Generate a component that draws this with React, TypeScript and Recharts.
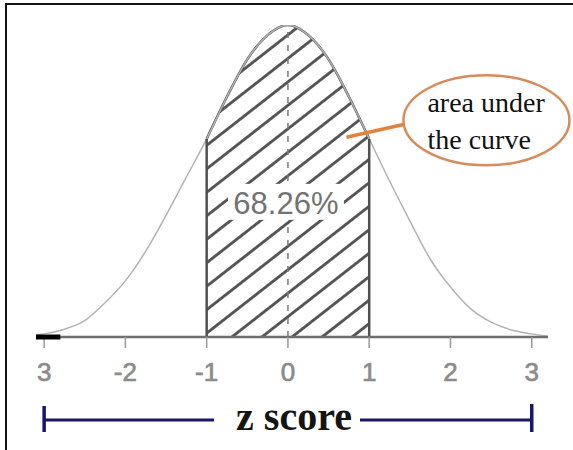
import React from 'react';
import {
  ComposedChart,
  Line,
  Area,
  XAxis,
  YAxis,
  ReferenceLine,
  ReferenceDot,
} from 'recharts';

const zValues = [
  -3.1, -3, -2.75, -2.5, -2.25, -2, -1.75, -1.5, -1.25, -1, -0.75, -0.5, -0.25,
  0, 0.25, 0.5, 0.75, 1, 1.25, 1.5, 1.75, 2, 2.25, 2.5, 2.75, 3, 3.2,
];
const curveDensity = [
  0.003, 0.004, 0.01, 0.021, 0.044, 0.072, 0.11, 0.156, 0.205, 0.254, 0.308, 0.356, 0.387,
  0.4, 0.387, 0.356, 0.308, 0.254, 0.2, 0.149, 0.1, 0.064, 0.036, 0.019, 0.009, 0.004, 0.001,
];

const tickValues = [-3, -2, -1, 0, 1, 2, 3];
const tickLabels = ['3', '-2', '-1', '0', '1', '2', '3'];

const bandFrom = -1;
const bandTo = 1;
const bandLabel = '68.26%';
const calloutLines = ['area under', 'the curve'];
const axisTitle = 'z score';

const X_DOMAIN: [number, number] = [-3.1, 3.2];

const data = zValues.map((z, i) => ({
  z,
  density: curveDensity[i],
  band: z >= bandFrom && z <= bandTo ? curveDensity[i] : null,
}));

const densityAt = (z: number) => curveDensity[zValues.indexOf(z)];

// grey digits under the axis
const ZTick = (props: any) => {
  const { x, y, payload } = props;
  const idx = tickValues.indexOf(payload.value);
  return (
    <text
      x={x}
      y={y + 31}
      textAnchor="middle"
      fill="#8c8c8c"
      stroke="#8c8c8c"
      strokeWidth={0.7}
      fontSize={26}
      fontFamily='"Liberation Sans", Arial, sans-serif'
    >
      {tickLabels[idx]}
    </text>
  );
};

// black stub at the left end of the axis, plus the bracket with the title in its gap
const AxisTitle = (props: any) => {
  const { viewBox } = props;
  const xAt = (z: number) =>
    viewBox.x + ((z - X_DOMAIN[0]) / (X_DOMAIN[1] - X_DOMAIN[0])) * viewBox.width;
  const left = xAt(-3);
  const right = xAt(3);
  const y = viewBox.y + 83;
  const cx = 294;
  const navy = '#16166e';
  return (
    <g>
      <line x1={xAt(-3.1)} y1={viewBox.y} x2={xAt(-2.8)} y2={viewBox.y} stroke="#000" strokeWidth={5} />
      <line x1={left} y1={y} x2={cx - 80} y2={y} stroke={navy} strokeWidth={3} />
      <line x1={cx + 66} y1={y} x2={right} y2={y} stroke={navy} strokeWidth={3} />
      <line x1={left} y1={y - 14} x2={left} y2={y + 12} stroke={navy} strokeWidth={3.5} />
      <line x1={right} y1={y - 16} x2={right} y2={y + 12} stroke={navy} strokeWidth={3.5} />
      <text
        x={cx}
        y={y + 10}
        textAnchor="middle"
        fill="#141414"
        fontSize={40}
        fontWeight="bold"
        fontFamily='"Liberation Serif", "DejaVu Serif", serif'
      >
        {axisTitle}
      </text>
    </g>
  );
};

const BandLabel = (props: any) => {
  const { cx, cy } = props;
  return (
    <g>
      <rect x={cx - 60} y={cy - 19} width={116} height={36} fill="#fff" />
      <text
        x={cx - 2}
        y={cy + 11}
        textAnchor="middle"
        fill="#727272"
        fontSize={31}
        fontFamily='"Liberation Sans", Arial, sans-serif'
      >
        {bandLabel}
      </text>
    </g>
  );
};

const Callout = (props: any) => {
  const { cx, cy } = props;
  const ex = cx + 140;
  const ey = cy - 17;
  return (
    <g>
      <line x1={cx} y1={cy} x2={cx + 58} y2={cy - 13} stroke="#e5823a" strokeWidth={3.5} />
      <ellipse cx={ex} cy={ey} rx={83} ry={45} fill="#fff" stroke="#d98a5a" strokeWidth={2.5} />
      <text
        x={cx + 81}
        y={ey - 8}
        fill="#111"
        fontSize={28}
        fontFamily='"Liberation Serif", "DejaVu Serif", serif'
      >
        <tspan x={cx + 81} dy={0}>{calloutLines[0]}</tspan>
        <tspan x={cx + 81} dy={37}>{calloutLines[1]}</tspan>
      </text>
    </g>
  );
};

export default function App() {
  return (
    <div
      style={{
        position: 'absolute',
        left: 0,
        top: 0,
        width: 573,
        height: 450,
        background: '#fff',
        overflow: 'hidden',
      }}
    >
      <div
        style={{
          position: 'absolute',
          left: 5,
          top: 3,
          right: 0,
          bottom: 0,
          borderTop: '2px solid #111',
          borderLeft: '2.5px solid #111',
        }}
      />
      <div style={{ position: 'absolute', left: 0, top: 0 }}>
        <ComposedChart
          width={573}
          height={450}
          data={data}
          margin={{ top: 25, right: 25, left: 36, bottom: 13 }}
        >
          <defs>
            <pattern
              id="hatch"
              patternUnits="userSpaceOnUse"
              x={-7.95}
              y={0}
              width={18.5}
              height={20}
              patternTransform="rotate(52)"
            >
              <line x1={9.25} y1={-2} x2={9.25} y2={22} stroke="#505050" strokeWidth={2.8} />
            </pattern>
          </defs>
          <XAxis
            dataKey="z"
            type="number"
            domain={X_DOMAIN}
            ticks={tickValues}
            allowDataOverflow
            height={100}
            axisLine={{ stroke: '#6e6e6e', strokeWidth: 2.5 }}
            tickLine={{ stroke: '#999', strokeWidth: 1.5 }}
            tickSize={11}
            tick={<ZTick />}
            label={<AxisTitle />}
          />
          <YAxis hide domain={[0, 0.4]} allowDataOverflow />
          <Line
            dataKey="density"
            type="monotone"
            stroke="#b3b3b3"
            strokeWidth={1.5}
            dot={false}
            activeDot={false}
            isAnimationActive={false}
          />
          <Area
            dataKey="band"
            type="monotone"
            baseValue={0}
            fill="url(#hatch)"
            fillOpacity={1}
            stroke="#505050"
            strokeWidth={2.5}
            dot={false}
            activeDot={false}
            isAnimationActive={false}
          />
          <ReferenceLine
            segment={[{ x: bandFrom, y: 0 }, { x: bandFrom, y: densityAt(bandFrom) }]}
            stroke="#505050"
            strokeWidth={2.5}
          />
          <ReferenceLine
            segment={[{ x: bandTo, y: 0 }, { x: bandTo, y: densityAt(bandTo) }]}
            stroke="#505050"
            strokeWidth={2.5}
          />
          <ReferenceLine x={0} stroke="#7a7a7a" strokeWidth={1.5} strokeDasharray="6 7" />
          <ReferenceDot x={0} y={0.172} r={0} shape={<BandLabel />} />
          <ReferenceDot x={0.72} y={0.256} r={0} shape={<Callout />} />
        </ComposedChart>
      </div>
    </div>
  );
}
